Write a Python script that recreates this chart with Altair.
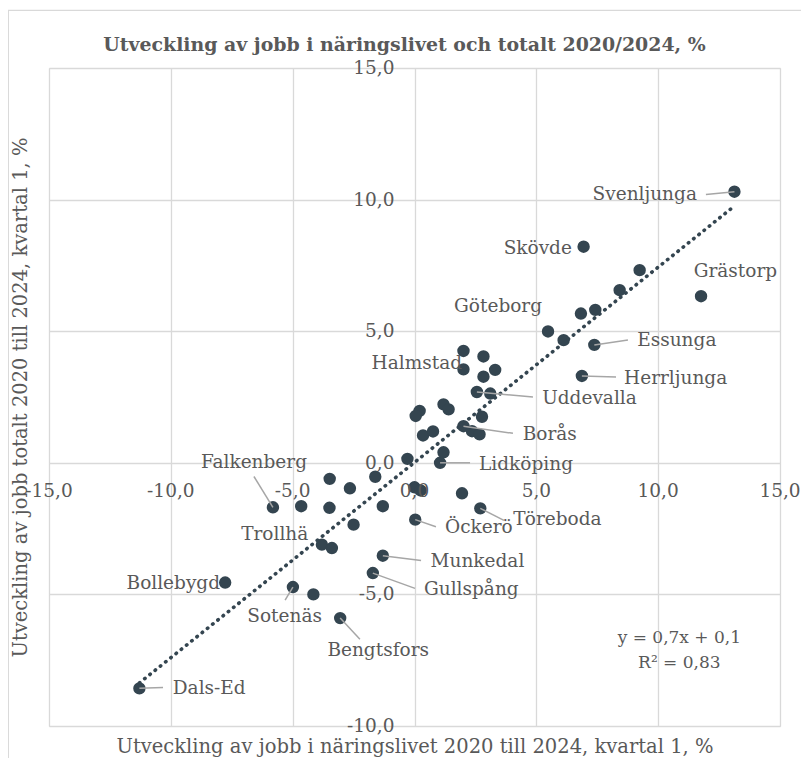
import altair as alt
import pandas as pd

# ---------------- texts ----------------
TITLE = "Utveckling av jobb i näringslivet och totalt 2020/2024, %"
X_TITLE = "Utveckling av jobb i näringslivet 2020 till 2024, kvartal 1, %"
Y_TITLE = "Utveckling av jobb totalt 2020 till 2024, kvartal 1, %"

# ---------------- data ----------------
label_names = ["Svenljunga", "Skövde", "Grästorp", "Göteborg", "Essunga", "Herrljunga",
               "Halmstad", "Uddevalla", "Borås", "Lidköping", "Töreboda", "Öckerö",
               "Munkedal", "Gullspång", "Falkenberg", "Trollhä", "Bollebygd", "Sotenäs",
               "Bengtsfors", "Dals-Ed"]
label_x = [13.13, 6.94, 11.76, 5.48, 7.38, 6.87,
           2.01, 2.56, 2.01, 1.05, 2.70, 0.03,
           -1.30, -1.71, -5.81, -3.80, -7.77, -4.99,
           -3.05, -11.29]
label_y = [10.30, 8.21, 6.33, 4.99, 4.48, 3.30,
           3.55, 2.69, 1.39, 0.00, -1.73, -2.16,
           -3.53, -4.19, -1.69, -3.11, -4.55, -4.72,
           -5.90, -8.57]

other_x = [9.24, 8.42, 7.42, 6.83, 6.12, 2.01, 2.83, 3.31, 2.83, 3.11,
           1.19, 1.40, 0.21, 0.05, 2.77, 2.36, 2.67, 0.35, 0.76, 1.19,
           -0.29, 1.95, -3.48, -2.65, -1.61, 0.00, 0.25, -3.49, -1.30, -4.65,
           -2.50, -3.39, -4.15]
other_y = [7.32, 6.56, 5.81, 5.67, 4.66, 4.25, 4.04, 3.53, 3.27, 2.63,
           2.22, 2.03, 1.97, 1.78, 1.75, 1.20, 1.08, 1.04, 1.19, 0.40,
           0.15, -1.16, -0.61, -0.97, -0.53, -0.93, -1.05, -1.71, -1.65, -1.65,
           -2.35, -3.24, -5.00]

x_ticks = [-15, -10, -5, 0, 5, 10, 15]
y_ticks = [-10, -5, 0, 5, 10, 15]

equation_lines = ["y = 0,7x + 0,1", "R² = 0,83"]

# ---------------- annotation layout ----------------
label_pos_x = [11.59, 6.46, 13.17, 3.43, 9.14, 8.60,
               1.95, 5.24, 4.44, 2.65, 4.05, 1.25,
               0.66, 0.39, -6.59, -4.36, -7.98, -5.33,
               -1.49, -9.92]
label_pos_y = [10.23, 8.18, 7.28, 5.94, 4.66, 3.23,
               3.80, 2.47, 1.08, -0.06, -2.15, -2.43,
               -3.73, -4.78, 0.03, -2.72, -4.55, -5.82,
               -7.12, -8.54]
label_align = ["right", "right", "center", "center", "left", "left",
               "right", "left", "left", "left", "left", "left",
               "left", "left", "center", "right", "right", "center",
               "center", "left"]
leader_end_x = [11.96, None, None, None, 8.76, 8.27,
                None, 4.86, 4.04, 2.28, 3.67, 0.88,
                0.27, 0.02, -6.59, None, None, -5.31,
                -2.24, -10.32]
leader_end_y = [10.19, None, None, None, 4.67, 3.26,
                None, 2.50, 1.12, 0.00, -2.19, -2.43,
                -3.71, -4.77, -0.52, None, None, -5.22,
                -6.70, -8.54]
equation_x = [10.87, 10.87]
equation_y = [-6.64, -7.59]

# ---------------- styles ----------------
FONT = "DejaVu Serif"
TXT = "#595959"
GRID = "#d9d9d9"
DOT = "#344550"
LEADER = "#a6a6a6"

points = pd.DataFrame({"x": label_x + other_x, "y": label_y + other_y})
labels = pd.DataFrame({
    "name": label_names, "x": label_x, "y": label_y,
    "lx": label_pos_x, "ly": label_pos_y, "align": label_align,
    "ex": leader_end_x, "ey": leader_end_y,
})
leaders = labels.dropna(subset=["ex"])


def fmt(v):
    return f"{v:.1f}".replace(".", ",")


xt = pd.DataFrame({"v": x_ticks, "t": [fmt(v) for v in x_ticks], "zero": 0})
yt = pd.DataFrame({"v": y_ticks, "t": [fmt(v) for v in y_ticks], "zero": 0})
eq = pd.DataFrame({"t": equation_lines, "x": equation_x, "y": equation_y})

xs = alt.Scale(domain=[-15, 15], nice=False, zero=False)
ys = alt.Scale(domain=[-10, 15], nice=False, zero=False)

x_axis = alt.Axis(values=x_ticks, grid=True, gridColor=GRID, gridWidth=1.3,
                  labels=False, ticks=False, domain=False, title=X_TITLE,
                  titleFont=FONT, titleFontSize=19.5, titleFontWeight="normal",
                  titleColor=TXT, titlePadding=11)
y_axis = alt.Axis(values=y_ticks, grid=True, gridColor=GRID, gridWidth=1.3,
                  labels=False, ticks=False, domain=False, title=Y_TITLE,
                  titleFont=FONT, titleFontSize=19.5, titleFontWeight="normal",
                  titleColor=TXT, titlePadding=19)


def X(field):
    return alt.X(field, scale=xs, axis=x_axis)


def Y(field):
    return alt.Y(field, scale=ys, axis=y_axis)


border = alt.Chart(pd.DataFrame({"k": [0]})).mark_rect(
    fillOpacity=0, stroke=GRID, strokeWidth=1.3
).encode(x=alt.value(-40.7), x2=alt.value(790), y=alt.value(-57.6), y2=alt.value(760))

dots = alt.Chart(points).mark_circle(size=154, color=DOT, opacity=1).encode(
    x=X("x:Q"), y=Y("y:Q"),
)

trend = alt.Chart(points).transform_regression("x", "y").mark_line(
    color=DOT, strokeWidth=3.6, strokeDash=[0.5, 6.2], strokeCap="round"
).encode(x=X("x:Q"), y=Y("y:Q"))

leader_lines = alt.Chart(leaders).mark_rule(color=LEADER, strokeWidth=1.5).encode(
    x=X("x:Q"), y=Y("y:Q"), x2="ex:Q", y2="ey:Q",
)

label_layers = []
for a in ["left", "center", "right"]:
    label_layers.append(
        alt.Chart(labels).transform_filter(alt.datum.align == a).mark_text(
            align=a, baseline="middle", font=FONT, fontSize=18.5, color=TXT
        ).encode(x=X("lx:Q"), y=Y("ly:Q"), text="name:N")
    )

x_tick_text = alt.Chart(xt).mark_text(
    dy=28, align="center", baseline="middle", font=FONT, fontSize=18.5, color=TXT
).encode(x=X("v:Q"), y=Y("zero:Q"), text="t:N")

y_tick_text = alt.Chart(yt).mark_text(
    dx=-20, align="right", baseline="middle", font=FONT, fontSize=18.5, color=TXT
).encode(x=X("zero:Q"), y=Y("v:Q"), text="t:N")

eq_text = alt.Chart(eq).mark_text(
    align="center", baseline="middle", font=FONT, fontSize=17, color=TXT
).encode(x=X("x:Q"), y=Y("y:Q"), text="t:N")

chart = alt.layer(
    border, dots, trend, leader_lines, *label_layers, x_tick_text, y_tick_text, eq_text
).properties(
    width=731,
    height=658,
    padding={"left": 41, "top": 60, "right": 21, "bottom": 32},
    autosize=alt.AutoSizeParams(type="none"),
    title=alt.Title(
        TITLE, font=FONT, fontSize=18.9, fontWeight="bold", color=TXT,
        anchor="middle", dx=-10, baseline="alphabetic", offset=-60,
    ),
).configure_view(stroke=GRID, strokeWidth=1.3).configure(background="white")

chart.save("out.html", embed_options={"renderer": "svg", "actions": False})
